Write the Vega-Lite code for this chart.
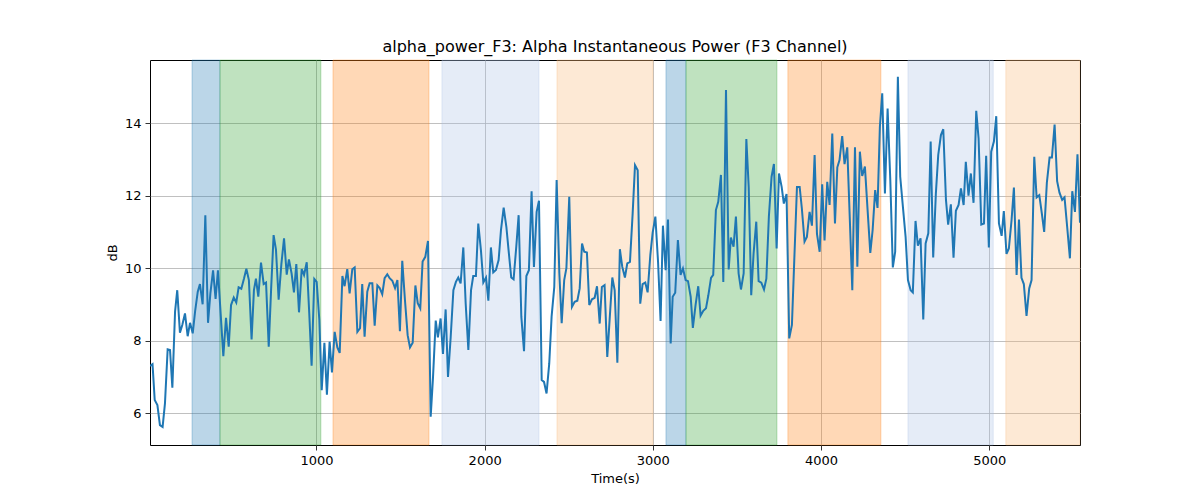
{
  "$schema": "https://vega.github.io/schema/vega-lite/v6.json",
  "width": 930,
  "height": 385,
  "autosize": {"type": "none"},
  "padding": {"left": 150, "top": 60, "right": 120, "bottom": 55},
  "background": "white",
  "title": {"text": "alpha_power_F3: Alpha Instantaneous Power (F3 Channel)", "font": "DejaVu Sans", "fontSize": 16, "fontWeight": "normal", "color": "black", "offset": 8, "dy": 16, "baseline": "alphabetic", "anchor": "middle"},
  "config": {
    "view": {"stroke": "black", "strokeWidth": 1},
    "axis": {"domain": false, "grid": true, "gridColor": "#b0b0b0", "gridWidth": 0.8, "tickColor": "black", "tickSize": 5, "tickWidth": 0.8, "labelFont": "DejaVu Sans", "labelFontSize": 13, "labelColor": "black", "labelPadding": 4, "titleFont": "DejaVu Sans", "titleFontSize": 13, "titleFontWeight": "normal", "titleColor": "black", "titlePadding": 5}
  },
  "datasets": {
    "spans": [
      {"start": 260, "end": 426, "kind": "blue"},
      {"start": 426, "end": 1026, "kind": "green"},
      {"start": 1098, "end": 1669, "kind": "orange"},
      {"start": 1746, "end": 2323, "kind": "lightblue"},
      {"start": 2430, "end": 3001, "kind": "lightorange"},
      {"start": 3078, "end": 3197, "kind": "blue"},
      {"start": 3197, "end": 3738, "kind": "green"},
      {"start": 3803, "end": 4356, "kind": "orange"},
      {"start": 4517, "end": 5024, "kind": "lightblue"},
      {"start": 5099, "end": 5540, "kind": "lightorange"}
    ],
    "power": [
      {"t":10,"db":7.3},{"t":25,"db":7.35},{"t":38,"db":6.36},{"t":54,"db":6.22},{"t":69,"db":5.67},{"t":85,"db":5.62},{"t":99,"db":6.27},{"t":115,"db":7.76},{"t":129,"db":7.74},{"t":143,"db":6.7},{"t":159,"db":8.8},{"t":172,"db":9.39},{"t":188,"db":8.22},{"t":202,"db":8.43},{"t":218,"db":8.75},{"t":234,"db":8.12},{"t":248,"db":8.49},{"t":264,"db":8.2},{"t":278,"db":8.8},{"t":294,"db":9.35},{"t":307,"db":9.56},{"t":323,"db":9.0},{"t":339,"db":11.46},{"t":355,"db":8.49},{"t":369,"db":9.3},{"t":385,"db":9.94},{"t":400,"db":9.15},{"t":414,"db":9.94},{"t":430,"db":8.75},{"t":446,"db":7.57},{"t":462,"db":8.63},{"t":478,"db":7.83},{"t":492,"db":8.98},{"t":508,"db":9.19},{"t":523,"db":9.05},{"t":537,"db":9.47},{"t":553,"db":9.43},{"t":569,"db":9.71},{"t":583,"db":9.98},{"t":598,"db":9.67},{"t":614,"db":8.03},{"t":628,"db":9.39},
      {"t":640,"db":9.71},{"t":654,"db":9.21},{"t":670,"db":10.15},{"t":686,"db":9.56},{"t":700,"db":9.6},{"t":716,"db":7.83},{"t":730,"db":9.4},{"t":745,"db":10.91},{"t":759,"db":10.51},{"t":775,"db":9.13},{"t":791,"db":10.1},{"t":807,"db":10.82},{"t":823,"db":9.82},{"t":836,"db":10.24},{"t":852,"db":9.85},{"t":866,"db":9.33},{"t":880,"db":10.11},{"t":896,"db":8.78},{"t":912,"db":9.97},{"t":926,"db":9.81},{"t":942,"db":10.16},{"t":957,"db":8.75},{"t":971,"db":7.31},{"t":987,"db":9.7},{"t":1001,"db":9.62},{"t":1017,"db":8.57},{"t":1031,"db":6.63},{"t":1047,"db":7.94},{"t":1062,"db":6.51},{"t":1078,"db":7.97},{"t":1092,"db":7.12},{"t":1108,"db":8.24},{"t":1124,"db":7.81},{"t":1138,"db":7.66},{"t":1154,"db":9.78},{"t":1167,"db":9.5},{"t":1183,"db":9.97},{"t":1197,"db":9.3},{"t":1213,"db":9.97},{"t":1227,"db":10.02},{"t":1243,"db":8.24},
      {"t":1259,"db":8.34},{"t":1272,"db":9.56},{"t":1286,"db":8.11},{"t":1302,"db":9.35},{"t":1316,"db":9.58},{"t":1332,"db":9.58},{"t":1346,"db":8.41},{"t":1362,"db":9.52},{"t":1376,"db":9.45},{"t":1391,"db":9.28},{"t":1405,"db":9.72},{"t":1421,"db":9.83},{"t":1435,"db":9.72},{"t":1451,"db":9.65},{"t":1467,"db":9.45},{"t":1481,"db":9.67},{"t":1496,"db":8.26},{"t":1510,"db":10.2},{"t":1526,"db":9.12},{"t":1542,"db":8.15},{"t":1556,"db":7.81},{"t":1572,"db":7.94},{"t":1588,"db":9.52},{"t":1602,"db":9.03},{"t":1617,"db":8.89},{"t":1631,"db":10.18},{"t":1647,"db":10.31},{"t":1663,"db":10.75},{"t":1679,"db":5.9},{"t":1693,"db":7.0},{"t":1709,"db":8.55},{"t":1722,"db":8.09},{"t":1738,"db":8.61},{"t":1752,"db":7.63},{"t":1768,"db":8.86},{"t":1782,"db":7.0},{"t":1798,"db":8.1},{"t":1814,"db":9.39},{"t":1829,"db":9.62},{"t":1843,"db":9.74},{"t":1857,"db":9.58},
      {"t":1873,"db":10.57},{"t":1887,"db":9.03},{"t":1903,"db":7.74},{"t":1919,"db":9.39},{"t":1932,"db":9.78},{"t":1948,"db":9.78},{"t":1962,"db":11.23},{"t":1978,"db":10.48},{"t":1992,"db":9.6},{"t":2008,"db":9.74},{"t":2022,"db":9.1},{"t":2037,"db":10.57},{"t":2051,"db":9.88},{"t":2067,"db":9.95},{"t":2083,"db":10.22},{"t":2097,"db":11.05},{"t":2113,"db":11.67},{"t":2129,"db":11.14},{"t":2142,"db":10.5},{"t":2158,"db":9.74},{"t":2172,"db":9.69},{"t":2188,"db":10.59},{"t":2202,"db":11.46},{"t":2218,"db":8.66},{"t":2234,"db":7.71},{"t":2248,"db":9.78},{"t":2263,"db":9.94},{"t":2279,"db":12.12},{"t":2293,"db":10.03},{"t":2309,"db":11.55},{"t":2323,"db":11.86},{"t":2339,"db":6.91},{"t":2353,"db":6.86},{"t":2368,"db":6.54},{"t":2384,"db":7.37},{"t":2398,"db":8.66},{"t":2414,"db":9.48},{"t":2428,"db":12.43},{"t":2444,"db":9.86},{"t":2458,"db":8.48},{"t":2473,"db":9.67},{"t":2486,"db":10.0},
      {"t":2503,"db":11.97},{"t":2519,"db":8.93},{"t":2535,"db":9.07},{"t":2551,"db":9.1},{"t":2565,"db":9.44},{"t":2579,"db":10.68},{"t":2592,"db":10.45},{"t":2608,"db":10.43},{"t":2622,"db":8.98},{"t":2638,"db":9.14},{"t":2654,"db":9.18},{"t":2668,"db":9.5},{"t":2684,"db":8.47},{"t":2697,"db":9.48},{"t":2713,"db":9.53},{"t":2729,"db":7.55},{"t":2743,"db":8.57},{"t":2759,"db":9.74},{"t":2773,"db":9.39},{"t":2789,"db":7.39},{"t":2804,"db":10.52},{"t":2818,"db":10.04},{"t":2834,"db":9.74},{"t":2848,"db":10.13},{"t":2864,"db":10.17},{"t":2880,"db":11.51},{"t":2894,"db":12.84},{"t":2910,"db":12.7},{"t":2925,"db":9.02},{"t":2939,"db":9.56},{"t":2955,"db":9.6},{"t":2969,"db":9.33},{"t":2985,"db":10.36},{"t":2999,"db":10.98},{"t":3015,"db":11.42},{"t":3031,"db":10.17},{"t":3046,"db":8.54},{"t":3060,"db":11.17},{"t":3076,"db":9.94},{"t":3090,"db":11.34},{"t":3106,"db":7.92},
      {"t":3118,"db":9.21},{"t":3133,"db":9.32},{"t":3149,"db":10.77},{"t":3165,"db":9.81},{"t":3179,"db":9.99},{"t":3195,"db":9.67},{"t":3209,"db":9.64},{"t":3225,"db":9.21},{"t":3238,"db":8.35},{"t":3254,"db":8.98},{"t":3270,"db":9.5},{"t":3284,"db":8.69},{"t":3300,"db":8.82},{"t":3316,"db":8.89},{"t":3330,"db":9.25},{"t":3346,"db":9.73},{"t":3359,"db":9.81},{"t":3375,"db":11.6},{"t":3389,"db":11.83},{"t":3405,"db":12.57},{"t":3419,"db":9.62},{"t":3435,"db":14.91},{"t":3451,"db":9.96},{"t":3464,"db":10.84},{"t":3480,"db":10.59},{"t":3494,"db":11.42},{"t":3510,"db":9.85},{"t":3524,"db":9.41},{"t":3540,"db":9.85},{"t":3556,"db":13.56},{"t":3570,"db":12.24},{"t":3585,"db":9.25},{"t":3599,"db":10.4},{"t":3615,"db":11.28},{"t":3629,"db":9.64},{"t":3645,"db":9.6},{"t":3661,"db":9.41},{"t":3675,"db":9.71},{"t":3690,"db":11.42},{"t":3706,"db":12.52},{"t":3720,"db":12.87},
      {"t":3736,"db":10.54},{"t":3750,"db":12.61},{"t":3766,"db":12.24},{"t":3779,"db":11.78},{"t":3795,"db":12.04},{"t":3811,"db":8.06},{"t":3827,"db":8.43},{"t":3841,"db":10.22},{"t":3857,"db":12.24},{"t":3873,"db":12.24},{"t":3886,"db":11.65},{"t":3902,"db":10.73},{"t":3916,"db":10.86},{"t":3932,"db":11.55},{"t":3946,"db":11.17},{"t":3962,"db":13.12},{"t":3976,"db":10.94},{"t":3992,"db":10.45},{"t":4007,"db":12.31},{"t":4021,"db":10.76},{"t":4037,"db":12.38},{"t":4051,"db":11.74},{"t":4067,"db":13.71},{"t":4083,"db":11.23},{"t":4097,"db":12.78},{"t":4110,"db":12.98},{"t":4126,"db":13.64},{"t":4140,"db":12.87},{"t":4156,"db":13.33},{"t":4172,"db":11.25},{"t":4186,"db":9.39},{"t":4202,"db":13.33},{"t":4216,"db":10.04},{"t":4231,"db":13.21},{"t":4245,"db":12.54},{"t":4261,"db":12.8},{"t":4277,"db":11.6},{"t":4293,"db":10.42},{"t":4307,"db":11.05},{"t":4322,"db":12.15},{"t":4336,"db":11.66},
      {"t":4350,"db":13.9},{"t":4364,"db":14.82},{"t":4380,"db":12.06},{"t":4396,"db":14.4},{"t":4412,"db":12.43},{"t":4427,"db":10.02},{"t":4441,"db":10.45},{"t":4457,"db":15.28},{"t":4471,"db":12.52},{"t":4487,"db":11.69},{"t":4503,"db":10.86},{"t":4517,"db":9.67},{"t":4533,"db":9.39},{"t":4546,"db":9.33},{"t":4562,"db":11.3},{"t":4576,"db":10.62},{"t":4592,"db":10.82},{"t":4608,"db":8.58},{"t":4622,"db":10.68},{"t":4638,"db":10.96},{"t":4652,"db":13.49},{"t":4667,"db":10.29},{"t":4683,"db":12.06},{"t":4697,"db":13.12},{"t":4713,"db":13.67},{"t":4727,"db":13.83},{"t":4743,"db":11.88},{"t":4756,"db":11.2},{"t":4772,"db":11.76},{"t":4788,"db":10.29},{"t":4802,"db":11.58},{"t":4818,"db":11.74},{"t":4832,"db":12.2},{"t":4848,"db":11.74},{"t":4861,"db":12.93},{"t":4877,"db":12.0},{"t":4891,"db":12.61},{"t":4907,"db":11.8},{"t":4923,"db":14.34},{"t":4937,"db":13.58},{"t":4953,"db":11.2},
      {"t":4969,"db":11.23},{"t":4982,"db":13.1},{"t":4998,"db":10.57},{"t":5012,"db":13.21},{"t":5028,"db":13.49},{"t":5042,"db":14.19},{"t":5058,"db":11.23},{"t":5074,"db":10.89},{"t":5087,"db":11.57},{"t":5103,"db":10.39},{"t":5117,"db":10.54},{"t":5133,"db":11.32},{"t":5147,"db":12.22},{"t":5163,"db":9.81},{"t":5177,"db":11.34},{"t":5192,"db":9.73},{"t":5206,"db":9.56},{"t":5222,"db":8.68},{"t":5238,"db":9.44},{"t":5252,"db":9.67},{"t":5268,"db":13.07},{"t":5282,"db":11.95},{"t":5298,"db":12.01},{"t":5313,"db":11.51},{"t":5327,"db":11.0},{"t":5343,"db":12.36},{"t":5359,"db":13.05},{"t":5373,"db":13.05},{"t":5389,"db":13.96},{"t":5404,"db":12.4},{"t":5418,"db":12.08},{"t":5434,"db":11.88},{"t":5448,"db":11.95},{"t":5464,"db":11.12},{"t":5480,"db":10.27},{"t":5494,"db":12.12},{"t":5510,"db":11.55},{"t":5525,"db":13.14},{"t":5540,"db":11.25}
    ]
  },
  "layer": [
    {
      "data": {"name": "spans"},
      "mark": {"type": "rect", "fillOpacity": 0.3, "strokeOpacity": 0.3, "strokeWidth": 1},
      "encoding": {
        "x": {"field": "start", "type": "quantitative", "scale": {"domain": [10, 5540], "nice": false, "zero": false}, "axis": {"title": "Time(s)", "values": [1000, 2000, 3000, 4000, 5000], "format": "d"}},
        "x2": {"field": "end"},
        "color": {"field": "kind", "type": "nominal", "scale": {"domain": ["blue", "green", "orange", "lightblue", "lightorange"], "range": ["#1f77b4", "#2ca02c", "#ff7f0e", "#a9c1e3", "#f8b673"]}, "legend": null},
        "stroke": {"field": "kind", "type": "nominal", "scale": {"domain": ["blue", "green", "orange", "lightblue", "lightorange"], "range": ["#1f77b4", "#2ca02c", "#ff7f0e", "#a9c1e3", "#f8b673"]}, "legend": null}
      }
    },
    {
      "data": {"name": "power"},
      "mark": {"type": "line", "color": "#1f77b4", "strokeWidth": 2, "clip": true},
      "encoding": {
        "x": {"field": "t", "type": "quantitative"},
        "y": {"field": "db", "type": "quantitative", "scale": {"domain": [5.12, 15.74], "nice": false, "zero": false}, "axis": {"title": "dB", "values": [6, 8, 10, 12, 14]}}
      }
    }
  ]
}
